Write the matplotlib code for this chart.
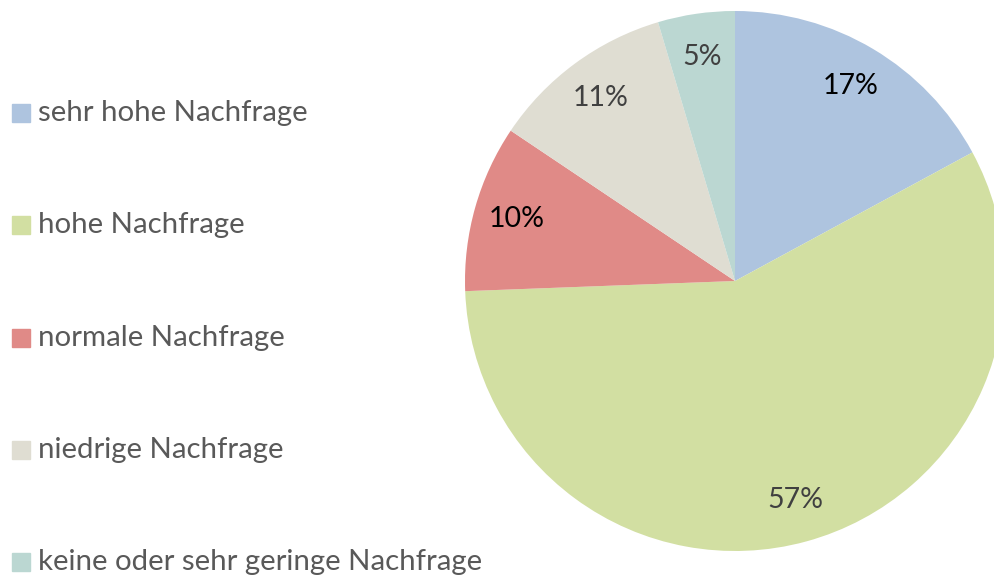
import matplotlib.pyplot as plt
from matplotlib.patches import Rectangle

categories = ["sehr hohe Nachfrage", "hohe Nachfrage", "normale Nachfrage",
              "niedrige Nachfrage", "keine oder sehr geringe Nachfrage"]
values = [17.1, 57.3, 10.0, 11.0, 4.6]
colors = ["#AEC4DF", "#D2DFA2", "#E08A87", "#DFDDD2", "#BBD7D2"]
label_colors = ["#000000", "#404040", "#000000", "#404040", "#404040"]

plt.rcParams['font.family'] = ['Lato', 'DejaVu Sans']

W, H = 995, 577
fig = plt.figure(figsize=(W / 100, H / 100), dpi=100)
ax = fig.add_axes([0, 0, 1, 1])

wedges, texts, autotexts = ax.pie(
    values, colors=colors, startangle=90, counterclock=False,
    center=(735, H - 281), radius=270, autopct='%1.0f%%', pctdistance=0.84,
    textprops={'fontsize': 20.5}, frame=False)
for t, c in zip(autotexts, label_colors):
    t.set_color(c)

# pie() resets the limits, so set them afterwards
ax.set_xlim(0, W)
ax.set_ylim(0, H)
ax.set_aspect('equal')
ax.axis('off')

# legend on the left
rows = [113, 225, 338, 450, 562]
for cat, col, y in zip(categories, colors, rows):
    ax.add_patch(Rectangle((12, H - y - 9), 18, 18, color=col))
    ax.text(38, H - y, cat, fontsize=21.2, color="#595959", va='center', ha='left')

fig.savefig("out.png", dpi=100)
